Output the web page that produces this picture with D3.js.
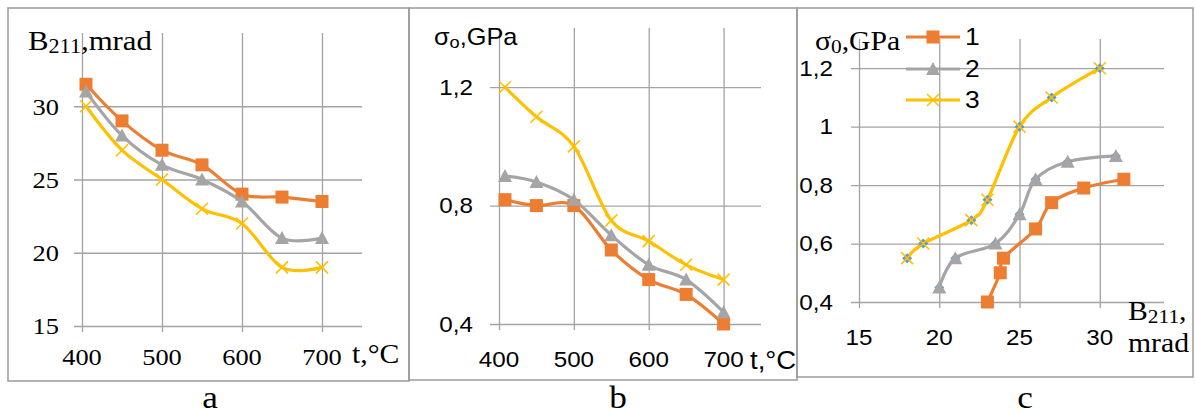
<!DOCTYPE html>
<html><head><meta charset="utf-8">
<script src="https://cdn.jsdelivr.net/npm/d3@7"></script>
<style>html,body{margin:0;padding:0;background:#fff;}svg{display:block;}</style>
</head><body>
<svg id="chart" width="1195" height="414"></svg>
<script>
// ---------- DATA ----------
const tempA = [405, 450, 500, 550, 600, 650, 700];
const B1 = [31.5, 29, 27, 26, 24, 23.8, 23.5];
const B2 = [31, 28, 26, 25, 23.5, 21, 21];
const B3 = [30, 27, 25, 23, 22, 19, 19];

const tempB = [408, 450, 500, 550, 600, 650, 700];
const S1 = [0.82, 0.80, 0.80, 0.65, 0.55, 0.50, 0.40];
const S2 = [0.90, 0.88, 0.82, 0.70, 0.60, 0.55, 0.44];
const S3 = [1.20, 1.10, 1.00, 0.75, 0.68, 0.60, 0.55];

const cB1 = [23, 23.8, 24, 26, 27, 29, 31.5];
const cS1 = [0.40, 0.50, 0.55, 0.65, 0.74, 0.79, 0.82];
const cB2 = [20, 21, 23.5, 25, 26, 28, 31];
const cS2 = [0.45, 0.55, 0.60, 0.70, 0.82, 0.88, 0.90];
const cB3 = [18, 19, 22, 23, 25, 27, 30];
const cS3 = [0.55, 0.60, 0.68, 0.75, 1.00, 1.10, 1.20];

const seriesNames = ["1", "2", "3"];
const tempTicks = [400, 500, 600, 700];
const aYTicks = [15, 20, 25, 30];
const bYTicks = [0.4, 0.8, 1.2];
const cXTicks = [15, 20, 25, 30];
const cYTicks = [0.4, 0.6, 0.8, 1.0, 1.2];
const panelCaptions = ["a", "b", "c"];

// ---------- STYLE ----------
const COLORS = ["#ED7D31", "#A5A5A5", "#FFC000"];
const SHAPES = ["square", "triangle", "cross"];
const GRID = "#A3A3A3";
const SX = 1.1;
const SERIF = "'Liberation Serif', 'Times New Roman', serif";
const SANS = "'Liberation Sans', Arial, sans-serif";
const commaFmt = v => String(+v.toFixed(2)).replace(".", ",");

const svg = d3.select("#chart");

function txt(g, x, y, str, o = {}) {
  const t = g.append("text")
    .attr("transform", `translate(${x},${y}) scale(${SX},1)`)
    .attr("font-family", o.family || SERIF)
    .attr("font-size", o.size || 24)
    .attr("fill", "#000")
    .attr("text-anchor", o.anchor || "start");
  if (o.dy) t.attr("dy", o.dy);
  return t.text(str);
}
function titleWithSub(g, x, y, main, sub, rest, family, size) {
  const t = g.append("text")
    .attr("transform", `translate(${x},${y}) scale(${SX},1)`)
    .attr("font-family", family).attr("font-size", size).attr("fill", "#000");
  t.append("tspan").text(main);
  t.append("tspan").attr("font-size", size * 0.72).attr("dy", 3).text(sub);
  if (rest) t.append("tspan").attr("dy", -3).text(rest);
  return t;
}

function marker(g, shape, color, x, y) {
  if (shape === "square") {
    g.append("rect").attr("x", x - 6.5).attr("y", y - 6.5).attr("width", 13).attr("height", 13).attr("fill", color);
  } else if (shape === "triangle") {
    g.append("path").attr("d", `M${x},${y - 7}L${x + 7},${y + 6}L${x - 7},${y + 6}Z`).attr("fill", color);
  } else {
    const s = 6;
    g.append("path").attr("d", `M${x - s},${y - s}L${x + s},${y + s}M${x - s},${y + s}L${x + s},${y - s}`)
      .attr("stroke", color).attr("stroke-width", 1.6).attr("fill", "none");
  }
}
function diamond(g, x, y) {
  g.append("path").attr("d", `M${x},${y - 5}L${x + 5},${y}L${x},${y + 5}L${x - 5},${y}Z`).attr("fill", "#5B9BD5");
}

function grid(g, x, y, xTicks, yTicks, left, right, top, bottom) {
  const gy = g.append("g").attr("transform", `translate(${right},0)`)
    .call(d3.axisLeft(y).tickValues(yTicks).tickSize(right - (left - 8)).tickFormat(""));
  gy.select(".domain").remove();
  gy.selectAll("line").attr("stroke", GRID).attr("stroke-width", 1.3);
  const gx = g.append("g").attr("transform", `translate(0,${bottom + 6})`)
    .call(d3.axisBottom(x).tickValues(xTicks).tickSize(-(bottom + 6 - top)).tickFormat(""));
  gx.select(".domain").remove();
  gx.selectAll("line").attr("stroke", GRID).attr("stroke-width", 1.3);
}

function drawSeries(g, x, y, xs, ys, i, withDiamond) {
  const pts = xs.map((v, k) => [x(v), y(ys[k])]);
  g.append("path").attr("d", d3.line().curve(d3.curveCardinal.tension(0))(pts))
    .attr("fill", "none").attr("stroke", COLORS[i]).attr("stroke-width", 3.2)
    .attr("stroke-linejoin", "round").attr("stroke-linecap", "round");
  pts.forEach(p => {
    if (withDiamond) diamond(g, p[0], p[1]);
    marker(g, SHAPES[i], COLORS[i], p[0], p[1]);
  });
}

function frame(x0, y0, x1, y1) {
  svg.append("rect").attr("x", x0).attr("y", y0).attr("width", x1 - x0).attr("height", y1 - y0)
    .attr("fill", "none").attr("stroke", "#9A9A9A").attr("stroke-width", 1.5);
}

// ---------- PANEL FRAMES ----------
frame(8, 8, 409, 381);
frame(409, 8, 797, 380);
frame(797, 8, 1193, 377);

// ---------- PANEL A ----------
{
  const g = svg.append("g");
  const x = d3.scaleLinear().domain([400, 750]).range([82, 362]);
  const y = d3.scaleLinear().domain([15, 35]).range([326, 33]);
  grid(g, x, y, tempTicks, aYTicks, 82, 362, 33, 326);
  aYTicks.forEach(v => txt(g, 59, y(v), v, { anchor: "end", dy: "0.35em", size: 24 }));
  tempTicks.forEach(v => txt(g, x(v), 357, v, { anchor: "middle", dy: "0.35em", size: 24 }));
  titleWithSub(g, 28, 50, "B", "211", ",mrad", SERIF, 28);
  txt(g, 352, 363, "t,°C", { size: 27 });
  [[B1, 0], [B2, 1], [B3, 2]].forEach(([ys, i]) => drawSeries(g, x, y, tempA, ys, i, false));
  txt(g, 210, 408, panelCaptions[0], { anchor: "middle", size: 32 });
}

// ---------- PANEL B ----------
{
  const g = svg.append("g");
  const x = d3.scaleLinear().domain([400, 750]).range([499, 761]);
  const y = d3.scaleLinear().domain([0.4, 1.4]).range([324, 28]);
  grid(g, x, y, tempTicks, bYTicks, 498, 761, 28, 324);
  bYTicks.forEach(v => txt(g, 473, y(v), commaFmt(v), { anchor: "end", dy: "0.35em", size: 22, family: SANS }));
  tempTicks.forEach(v => txt(g, x(v), 359, v, { anchor: "middle", dy: "0.35em", size: 22, family: SANS }));
  titleWithSub(g, 434, 45, "σ", "o", ",GPa", SANS, 23);
  txt(g, 750, 369, "t,°C", { size: 25, family: SANS });
  [[S1, 0], [S2, 1], [S3, 2]].forEach(([ys, i]) => drawSeries(g, x, y, tempB, ys, i, false));
  txt(g, 618, 408, panelCaptions[1], { anchor: "middle", size: 32 });
}

// ---------- PANEL C ----------
{
  const g = svg.append("g");
  const x = d3.scaleLinear().domain([15, 34]).range([859, 1164]);
  const y = d3.scaleLinear().domain([0.4, 1.3]).range([302, 39]);
  grid(g, x, y, cXTicks, cYTicks, 859, 1164, 39, 302);
  cYTicks.forEach(v => txt(g, 833, y(v), commaFmt(v), { anchor: "end", dy: "0.35em", size: 22, family: SANS }));
  cXTicks.forEach(v => txt(g, x(v), 337, v, { anchor: "middle", dy: "0.35em", size: 22, family: SANS }));
  titleWithSub(g, 815, 50, "σ", "0", ",GPa", SERIF, 27);
  titleWithSub(g, 1128, 320, "B", "211", ",", SERIF, 27);
  txt(g, 1128, 352, "mrad", { size: 27 });
  [[cB1, cS1, 0], [cB2, cS2, 1], [cB3, cS3, 2]].forEach(([xs, ys, i]) => drawSeries(g, x, y, xs, ys, i, true));

  const ly = [37, 69, 100];
  seriesNames.forEach((name, i) => {
    g.append("line").attr("x1", 906).attr("x2", 960).attr("y1", ly[i]).attr("y2", ly[i])
      .attr("stroke", COLORS[i]).attr("stroke-width", 3.2);
    marker(g, SHAPES[i], COLORS[i], 933, ly[i]);
    txt(g, 965, ly[i], name, { dy: "0.35em", size: 24, family: SANS });
  });
  txt(g, 1025, 408, panelCaptions[2], { anchor: "middle", size: 32 });
}
</script>
</body></html>
